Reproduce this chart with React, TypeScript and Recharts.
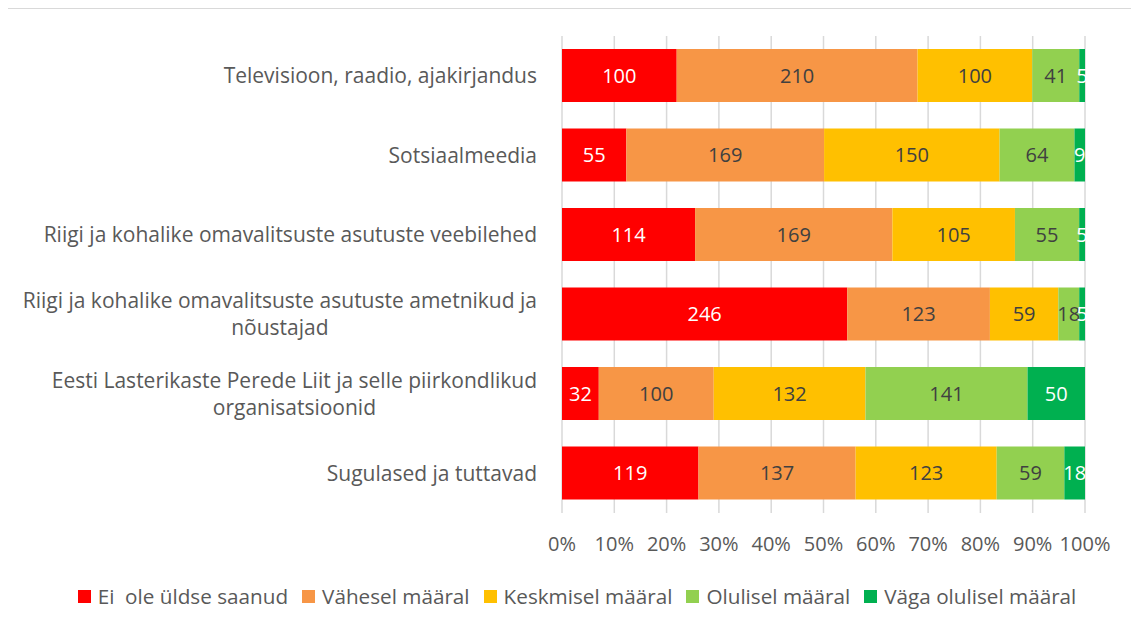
import React from "react";
import { BarChart, Bar, XAxis, YAxis, CartesianGrid, Legend, LabelList } from "recharts";

// kategooriad (ülevalt alla)
const allikad = [
  "Televisioon, raadio, ajakirjandus",
  "Sotsiaalmeedia",
  "Riigi ja kohalike omavalitsuste asutuste veebilehed",
  "Riigi ja kohalike omavalitsuste asutuste ametnikud ja nõustajad",
  "Eesti Lasterikaste Perede Liit ja selle piirkondlikud organisatsioonid",
  "Sugulased ja tuttavad",
];

const eiOle = [100, 55, 114, 246, 32, 119];
const vahesel = [210, 169, 169, 123, 100, 137];
const keskmisel = [100, 150, 105, 59, 132, 123];
const olulisel = [41, 64, 55, 18, 141, 59];
const vagaOlulisel = [5, 9, 5, 5, 50, 18];

const protsendid = [0, 0.1, 0.2, 0.3, 0.4, 0.5, 0.6, 0.7, 0.8, 0.9, 1];

const seeriad = [
  { key: "eiOle", nimi: "Ei  ole üldse saanud", varv: "#FF0000", tekst: "#FFFFFF" },
  { key: "vahesel", nimi: "Vähesel määral", varv: "#F79646", tekst: "#404040" },
  { key: "keskmisel", nimi: "Keskmisel määral", varv: "#FFC000", tekst: "#404040" },
  { key: "olulisel", nimi: "Olulisel määral", varv: "#92D050", tekst: "#404040" },
  { key: "vagaOlulisel", nimi: "Väga olulisel määral", varv: "#00B050", tekst: "#FFFFFF" },
];

const andmed = allikad.map((nimi, i) => ({
  nimi,
  eiOle: eiOle[i],
  vahesel: vahesel[i],
  keskmisel: keskmisel[i],
  olulisel: olulisel[i],
  vagaOlulisel: vagaOlulisel[i],
}));

const FONT = "'Open Sans', sans-serif";
const FONT_SIZE = 20;
const KAT_FONT = 21;

let ctx: CanvasRenderingContext2D | null = null;
function mootLaius(tekst: string) {
  if (!ctx) ctx = document.createElement("canvas").getContext("2d");
  if (!ctx) return tekst.length * 10;
  ctx.font = `${KAT_FONT}px ${FONT}`;
  return ctx.measureText(tekst).width;
}

// murrab pika sildi ridadeks (max 53 märki reas)
function murra(tekst: string, max = 53) {
  const sonad = tekst.split(" ");
  const read: string[] = [];
  let rida = "";
  sonad.forEach((s) => {
    const uus = rida ? rida + " " + s : s;
    if (uus.length > max && rida) {
      read.push(rida);
      rida = s;
    } else rida = uus;
  });
  if (rida) read.push(rida);
  return read;
}

function KategooriaTick({ x, y, payload }: any) {
  const read = murra(payload.value);
  const parem = x - 17;
  if (read.length === 1) {
    return (
      <text x={parem} y={y} dy="0.35em" textAnchor="end" fill="#595959" fontSize={KAT_FONT} fontFamily={FONT}>
        {read[0]}
      </text>
    );
  }
  const laius = Math.max(...read.map(mootLaius));
  const kesk = parem - laius / 2;
  const reaKorgus = 27;
  const algus = y - ((read.length - 1) * reaKorgus) / 2;
  return (
    <text textAnchor="middle" fill="#595959" fontSize={KAT_FONT} fontFamily={FONT}>
      {read.map((r, i) => (
        <tspan key={i} x={kesk} y={algus + i * reaKorgus} dy="0.35em">
          {r}
        </tspan>
      ))}
    </text>
  );
}

// legend seeriate järjekorras
function Legendisisu() {
  return (
    <div style={{ display: "flex", justifyContent: "center", paddingLeft: 8, fontSize: 20.7, fontFamily: FONT, color: "#595959" }}>
      {seeriad.map((s, i) => (
        <div key={s.key} style={{ display: "flex", alignItems: "center", marginRight: i < seeriad.length - 1 ? 14 : 0 }}>
          <span style={{ width: 13, height: 13, background: s.varv, marginRight: 7, display: "inline-block" }} />
          <span style={{ whiteSpace: "pre", lineHeight: "28px" }}>{s.nimi}</span>
        </div>
      ))}
    </div>
  );
}

export default function App() {
  return (
    <div
      style={{
        width: 1133,
        height: 623,
        marginLeft: -2,
        borderTop: "1px solid #D9D9D9",
        borderLeft: "1px solid #D9D9D9",
        fontFamily: FONT,
      }}
    >
      <BarChart
        width={1132}
        height={618}
        data={andmed}
        layout="vertical"
        stackOffset="expand"
        barSize={53}
        margin={{ top: 27, right: 54, left: 0, bottom: 17 }}
      >
        <CartesianGrid horizontal={false} stroke="#D9D9D9" strokeWidth={1.5} />
        <XAxis
          type="number"
          domain={[0, 1]}
          ticks={protsendid}
          tickFormatter={(v) => `${Math.round(v * 100)}%`}
          axisLine={false}
          tickLine={false}
          tickMargin={18}
          height={69}
          tick={{ fill: "#595959", fontSize: FONT_SIZE, fontFamily: FONT }}
        />
        <YAxis
          type="category"
          dataKey="nimi"
          width={555}
          axisLine={false}
          tickLine={false}
          tick={<KategooriaTick />}
          interval={0}
        />
        <Legend verticalAlign="bottom" content={<Legendisisu />} wrapperStyle={{ left: 0, width: 1132 }} />
        {seeriad.map((s) => (
          <Bar key={s.key} dataKey={s.key} name={s.nimi} stackId="a" fill={s.varv} isAnimationActive={false}>
            <LabelList dataKey={s.key} position="center" fill={s.tekst} fontSize={FONT_SIZE} fontFamily={FONT} />
          </Bar>
        ))}
      </BarChart>
    </div>
  );
}
